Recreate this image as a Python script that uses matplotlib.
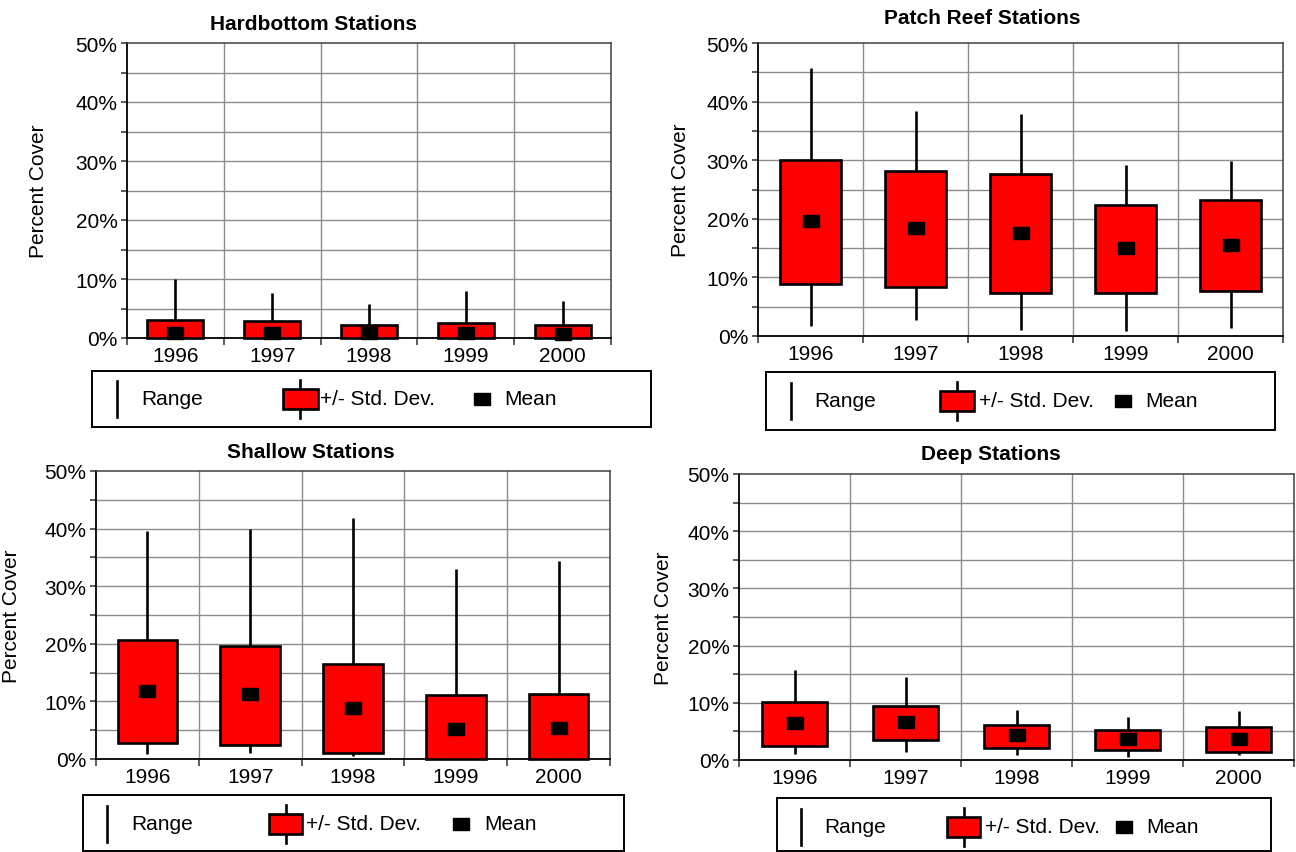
import matplotlib
matplotlib.use("Agg")
import matplotlib.pyplot as plt
from matplotlib.ticker import FixedLocator, NullFormatter, FuncFormatter
from matplotlib.patches import Rectangle
import numpy as np

plt.rcParams['font.family'] = ['Liberation Sans', 'DejaVu Sans']

years = ['1996', '1997', '1998', '1999', '2000']

# Hardbottom Stations
hb_max = [10.0, 7.6, 5.8, 8.05, 6.25]
hb_min = [0.0, 0.0, 0.0, 0.0, 0.0]
hb_sd_hi = [3.0, 2.8, 2.25, 2.6, 2.15]
hb_sd_lo = [0.0, 0.0, 0.0, 0.0, 0.0]
hb_mean = [0.9, 0.9, 0.8, 0.8, 0.75]

# Patch Reef Stations
pr_max = [45.7, 38.4, 37.8, 29.1, 29.9]
pr_min = [1.7, 2.8, 1.1, 0.85, 1.4]
pr_sd_hi = [30.0, 28.2, 27.7, 22.4, 23.2]
pr_sd_lo = [8.8, 8.3, 7.3, 7.3, 7.6]
pr_mean = [19.6, 18.4, 17.6, 15.1, 15.5]

# Shallow Stations
sh_max = [39.6, 40.0, 41.8, 33.0, 34.4]
sh_min = [0.9, 1.0, 0.5, 0.0, 0.0]
sh_sd_hi = [20.7, 19.6, 16.5, 11.1, 11.3]
sh_sd_lo = [2.7, 2.5, 1.0, 0.0, 0.0]
sh_mean = [11.8, 11.2, 8.8, 5.2, 5.3]

# Deep Stations
dp_max = [15.75, 14.5, 8.7, 7.6, 8.6]
dp_min = [1.0, 1.4, 0.8, 0.6, 0.9]
dp_sd_hi = [10.15, 9.5, 6.1, 5.2, 5.7]
dp_sd_lo = [2.45, 3.45, 2.1, 1.7, 1.45]
dp_mean = [6.4, 6.6, 4.3, 3.6, 3.6]

W, H = 1296, 853
fig = plt.figure(figsize=(W / 100, H / 100), dpi=100)

FS = 15
GRID = '#8c8c8c'
MEAN_MARK = [(-1, -0.75), (1, -0.75), (1, 0.75), (-1, 0.75), (-1, -0.75)]
LEG_MARK = [(-1, -0.8), (1, -0.8), (1, 0.8), (-1, 0.8), (-1, -0.8)]


def px_axes(l, t, r, b):
    return fig.add_axes([l / W, 1 - b / H, (r - l) / W, (b - t) / H])


def panel(box, title, title_x, title_y, ylab_x, vmax, vmin, sdh, sdl, mean):
    l, t, r, b = box
    ax = px_axes(l, t, r, b)
    x = np.arange(1, len(years) + 1)
    ax.set_xlim(0.5, len(years) + 0.5)
    ax.set_ylim(0, 50)
    # grid
    for yv in np.arange(5, 50, 5):
        ax.axhline(yv, color=GRID, lw=1.0, zorder=0)
    for xv in np.arange(1.5, len(years), 1.0):
        ax.axvline(xv, color=GRID, lw=1.0, zorder=0)
    # marks
    ax.vlines(x, vmin, vmax, color='black', lw=1.9, zorder=2)
    heights = np.array(sdh) - np.array(sdl)
    ax.bar(x, heights, bottom=sdl, width=0.58, color='#ff0000',
           edgecolor='black', linewidth=1.9, zorder=3, clip_on=False)
    ax.plot(x, mean, linestyle='none', marker=MEAN_MARK, markersize=11.5,
            color='black', zorder=4, clip_on=False)
    # spines
    for s in ['left', 'bottom']:
        ax.spines[s].set_color('black')
        ax.spines[s].set_linewidth(1.3)
    for s in ['top', 'right']:
        ax.spines[s].set_color('#404040')
        ax.spines[s].set_linewidth(1.1)
    # ticks
    ax.xaxis.set_major_locator(FixedLocator(np.arange(0.5, len(years) + 1, 1.0)))
    ax.xaxis.set_major_formatter(NullFormatter())
    ax.xaxis.set_minor_locator(FixedLocator(x))
    ax.set_xticklabels(years, minor=True, fontsize=FS)
    ax.tick_params(axis='x', which='major', length=5, width=1.2, color='#404040')
    ax.tick_params(axis='x', which='minor', length=0, pad=6)
    ax.yaxis.set_major_locator(FixedLocator(np.arange(0, 51, 10)))
    ax.yaxis.set_minor_locator(FixedLocator(np.arange(5, 50, 10)))
    ax.yaxis.set_major_formatter(FuncFormatter(lambda v, p: f"{int(v)}%"))
    ax.tick_params(axis='y', which='both', length=4.3, width=1.2, color='#404040',
                   labelsize=FS, pad=2.5)
    ax.set_ylabel('Percent Cover', fontsize=FS)
    ax.yaxis.set_label_coords((ylab_x - l) / (r - l), 0.5)
    fig.text(title_x / W, 1 - title_y / H, title, fontsize=FS, fontweight='bold',
             ha='center', va='center')
    return ax


def legend(box, cy, line_x, range_tx, red_l, red_r, std_tx, sq_x, mean_tx):
    l, t, r, b = box
    lax = px_axes(l, t, r, b)
    lax.set_xlim(l, r)
    lax.set_ylim(b, t)
    lax.set_xticks([])
    lax.set_yticks([])
    for s in lax.spines.values():
        s.set_color('black')
        s.set_linewidth(1.4)
    lax.plot([line_x, line_x], [cy - 18, cy + 18], color='black', lw=1.9)
    lax.text(range_tx, cy, 'Range', fontsize=FS, va='center', ha='left')
    cx = (red_l + red_r) / 2
    lax.plot([cx, cx], [cy - 19, cy + 19], color='black', lw=1.9, zorder=2)
    lax.add_patch(Rectangle((red_l, cy - 10), red_r - red_l, 20,
                            facecolor='#ff0000', edgecolor='black', lw=1.9, zorder=3))
    lax.text(std_tx, cy, '+/- Std. Dev.', fontsize=FS, va='center', ha='left')
    lax.plot([sq_x], [cy], marker=LEG_MARK, markersize=11.5, color='black')
    lax.text(mean_tx, cy, 'Mean', fontsize=FS, va='center', ha='left')


panel((127, 44, 611, 339), 'Hardbottom Stations', 313, 24.5, 48,
      hb_max, hb_min, hb_sd_hi, hb_sd_lo, hb_mean)
legend((92, 372, 651, 428), 400, 117, 141, 283, 318, 320, 482, 504)

panel((758, 44, 1283, 337), 'Patch Reef Stations', 982, 19, 690,
      pr_max, pr_min, pr_sd_hi, pr_sd_lo, pr_mean)
legend((766, 373, 1275, 431), 402, 791, 814, 940, 974, 979, 1123, 1145)

panel((96, 472, 610, 760), 'Shallow Stations', 311, 453, 21,
      sh_max, sh_min, sh_sd_hi, sh_sd_lo, sh_mean)
legend((83, 796, 624, 852), 825, 107, 131, 269, 302, 306, 461, 484)

panel((739, 475, 1294, 761), 'Deep Stations', 991, 455, 673,
      dp_max, dp_min, dp_sd_hi, dp_sd_lo, dp_mean)
legend((777, 799, 1271, 852), 828, 801, 824, 947, 980, 985, 1124, 1146)

fig.savefig('out.png', dpi=100)
